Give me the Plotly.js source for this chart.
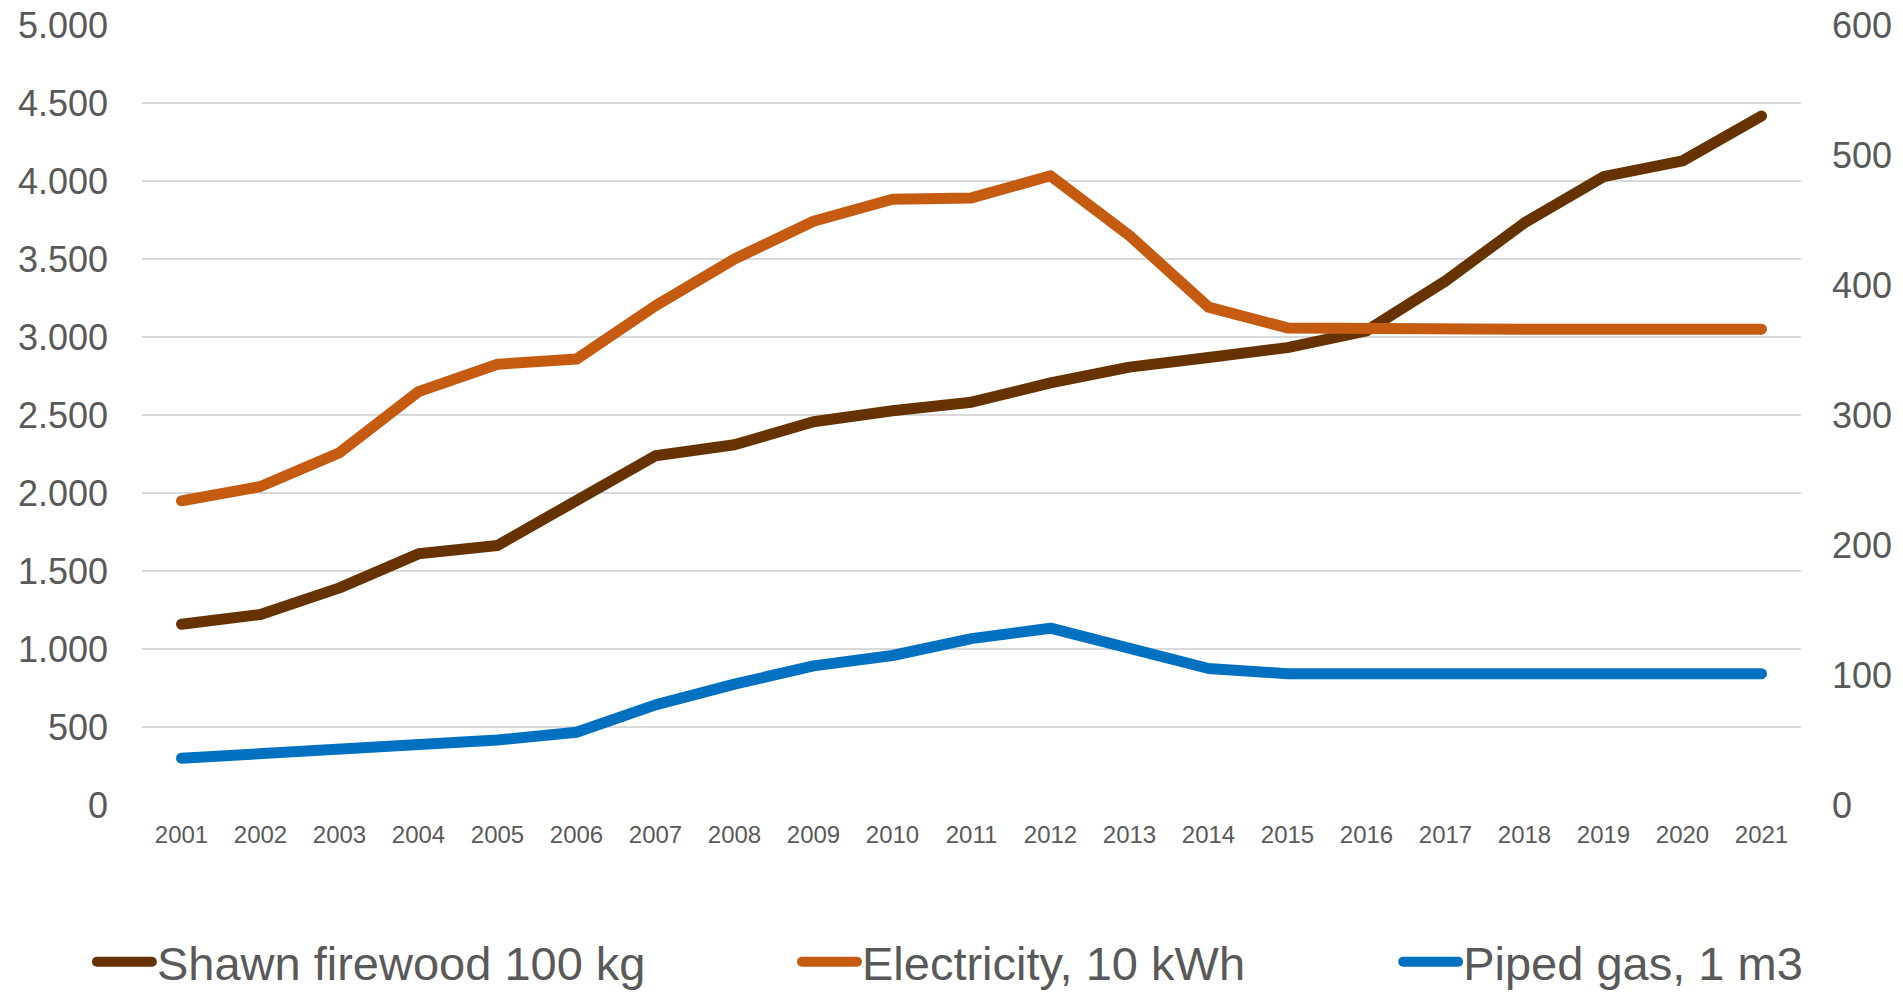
<!DOCTYPE html>
<html>
<head>
<meta charset="utf-8">
<script src="https://cdn.plot.ly/plotly-3.0.1.min.js"></script>
<style>
html, body { margin: 0; padding: 0; background: #fff; }
#chart { width: 1903px; height: 992px; }
.js-line { stroke-linecap: round; stroke-linejoin: round; }
</style>
</head>
<body>
<div id="chart"></div>
<script>
const years = ["2001","2002","2003","2004","2005","2006","2007","2008","2009","2010","2011","2012","2013","2014","2015","2016","2017","2018","2019","2020","2021"];
const firewood = [1159,1221,1392,1610,1664,1944,2239,2309,2457,2527,2582,2706,2807,2869,2932,3040,3359,3732,4028,4129,4417];
const electricity = [234,245,271,318,339,343,384,420,449,466,467,484,438,383,367,366,366,366,366,366,366];
const pipedGas = [36,39,42,47,50,56,77,93,107,115,128,136,121,105,101,101,101,101,101,101,101];
const seriesNames = ["Shawn firewood 100 kg","Electricity, 10 kWh","Piped gas, 1 m3"];
const leftTicks = [0,500,1000,1500,2000,2500,3000,3500,4000,4500,5000];
const rightTicks = [0,100,200,300,400,500,600];

const FONT = '"Liberation Sans", Arial, sans-serif';
const TXT = '#595959';

const traces = [
  {x: years, y: firewood, name: seriesNames[0], type: 'scatter', mode: 'lines', yaxis: 'y',
   line: {color: '#663300', width: 11}, legend: 'legend'},
  {x: years, y: electricity, name: seriesNames[1], type: 'scatter', mode: 'lines', yaxis: 'y2',
   line: {color: '#C55A11', width: 11}, legend: 'legend2'},
  {x: years, y: pipedGas, name: seriesNames[2], type: 'scatter', mode: 'lines', yaxis: 'y2',
   line: {color: '#0070C0', width: 11}, legend: 'legend3'}
];

function leg(x) {
  return {x: x, xref: 'container', xanchor: 'left', y: 0.03, yref: 'container', yanchor: 'middle',
    orientation: 'h', font: {family: FONT, size: 47, color: TXT}, itemwidth: 55,
    bgcolor: 'rgba(0,0,0,0)', borderwidth: 0};
}

const layout = {
  width: 1903, height: 992,
  margin: {l: 142, r: 102, t: 25, b: 187},
  paper_bgcolor: '#fff', plot_bgcolor: '#fff',
  separators: ',.',
  showlegend: true,
  font: {family: FONT, color: TXT},
  xaxis: {type: 'category', range: [-0.5, 20.5], tickvals: years, ticktext: years, showgrid: false, zeroline: false,
    showline: false, ticks: '', tickfont: {family: FONT, size: 24, color: TXT}, ticklabelstandoff: 13,
    fixedrange: true},
  yaxis: {range: [0, 5000], tickvals: leftTicks, tickformat: ',d', showgrid: true, gridcolor: '#D9D9D9',
    gridwidth: 1.5, zeroline: false, showline: false, ticks: '', tickfont: {family: FONT, size: 36, color: TXT},
    ticklabelstandoff: 33},
  yaxis2: {range: [0, 600], tickvals: rightTicks, overlaying: 'y', side: 'right', showgrid: false,
    zeroline: false, showline: false, ticks: '', tickfont: {family: FONT, size: 36, color: TXT},
    ticklabelstandoff: 30},
  legend: leg(0.0483),
  legend2: leg(0.4188),
  legend3: leg(0.7347)
};

Plotly.newPlot('chart', traces, layout, {staticPlot: true});
</script>
</body>
</html>
